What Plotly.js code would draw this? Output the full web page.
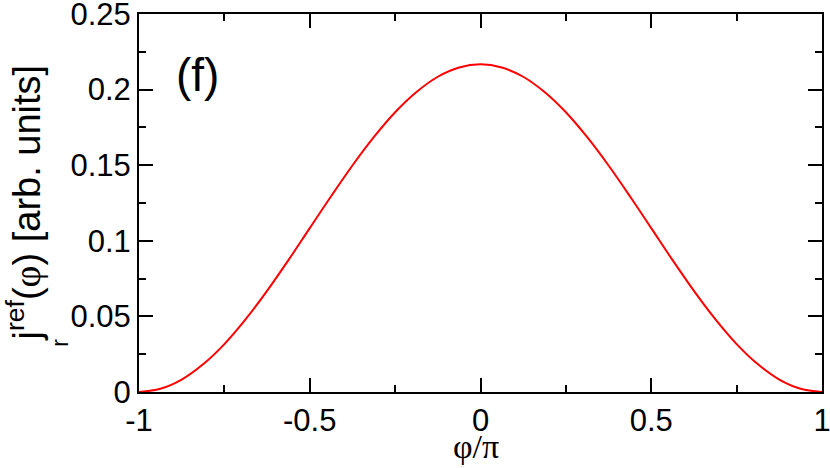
<!DOCTYPE html>
<html>
<head>
<meta charset="utf-8">
<script src="https://cdn.plot.ly/plotly-3.0.1.min.js"></script>
<style>html,body{margin:0;padding:0;background:#fff;}#plot{width:830px;height:468px;}</style>
</head>
<body>
<div id="plot"></div>
<script>
// Values
const phiOverPi = [-1, -0.9375, -0.875, -0.8125, -0.75, -0.6875, -0.625, -0.5625, -0.5, -0.4375, -0.375, -0.3125, -0.25, -0.1875, -0.125, -0.0625, 0,
                   0.0625, 0.125, 0.1875, 0.25, 0.3125, 0.375, 0.4375, 0.5, 0.5625, 0.625, 0.6875, 0.75, 0.8125, 0.875, 0.9375, 1];
const jref = [0, 0.0021, 0.0082, 0.0183, 0.0317, 0.0482, 0.0669, 0.0872, 0.1084, 0.1295, 0.1498, 0.1685, 0.1850, 0.1984, 0.2085, 0.2146, 0.2167,
              0.2146, 0.2085, 0.1984, 0.1850, 0.1685, 0.1498, 0.1295, 0.1084, 0.0872, 0.0669, 0.0482, 0.0317, 0.0183, 0.0082, 0.0021, 0];
const xTickVals = [-1, -0.5, 0, 0.5, 1];
const xTickText = ['-1', '-0.5', '0', '0.5', '1'];
const xMinorVals = [-0.75, -0.25, 0.25, 0.75];
const yTickVals = [0, 0.05, 0.1, 0.15, 0.2, 0.25];
const yTickText = ['0', '0.05', '0.1', '0.15', '0.2', '0.25'];
const yMinorVals = [0.025, 0.075, 0.125, 0.175, 0.225];
const panelLabel = '(f)';
const xTitle = 'φ/π';
const yTitle = 'j<sup>ref</sup>(<span style="font-family:\'Liberation Serif\'">φ</span>) [arb. units]';
const ySub = 'r';

const FONT = 'Liberation Sans, Arial, sans-serif';
const SERIF = 'Liberation Serif, Times New Roman, serif';
const axisCommon = {
  showline: true, mirror: 'ticks', linecolor: '#000', linewidth: 2,
  ticks: 'inside', ticklen: 14, tickwidth: 2, tickcolor: '#000',
  showgrid: false, zeroline: false, ticklabeloverflow: 'allow',
  tickfont: {family: FONT, size: 31, color: '#000'},
  minor: {ticks: 'inside', ticklen: 7, tickwidth: 2, tickcolor: '#000', showgrid: false}
};

const data = [{
  x: phiOverPi, y: jref, type: 'scatter', mode: 'lines',
  line: {color: '#ff0000', width: 2, shape: 'spline', smoothing: 1},
  hoverinfo: 'skip', cliponaxis: true
}];

const layout = {
  width: 830, height: 468,
  margin: {l: 139, r: 8, t: 14, b: 76},
  paper_bgcolor: '#fff', plot_bgcolor: '#fff',
  showlegend: false,
  xaxis: Object.assign({}, axisCommon, {
    range: [-1, 1], tickmode: 'array', tickvals: xTickVals, ticktext: xTickText,
    minor: Object.assign({}, axisCommon.minor, {tickmode: 'array', tickvals: xMinorVals})
  }),
  yaxis: Object.assign({}, axisCommon, {
    range: [0, 0.25], tickmode: 'array', tickvals: yTickVals, ticktext: yTickText,
    minor: Object.assign({}, axisCommon.minor, {tickmode: 'array', tickvals: yMinorVals})
  }),
  annotations: [
    {text: panelLabel, xref: 'paper', yref: 'paper', x: 0.085, y: 0.838, xanchor: 'center', yanchor: 'middle',
     showarrow: false, font: {family: FONT, size: 46, color: '#000'}},
    {text: xTitle, xref: 'paper', yref: 'paper', x: 0.494, y: -0.145, xanchor: 'center', yanchor: 'middle',
     showarrow: false, font: {family: SERIF, size: 34, color: '#000'}},
    {text: yTitle, xref: 'paper', yref: 'paper', x: -0.169, y: 0.5, xanchor: 'center', yanchor: 'middle', textangle: -90,
     showarrow: false, font: {family: FONT, size: 38, color: '#000'}},
    {text: ySub, xref: 'paper', yref: 'paper', x: -0.116, y: 0.13, xanchor: 'center', yanchor: 'middle', textangle: -90,
     showarrow: false, font: {family: FONT, size: 23, color: '#000'}}
  ]
};

Plotly.newPlot('plot', data, layout, {staticPlot: true, displayModeBar: false});
</script>
</body>
</html>
